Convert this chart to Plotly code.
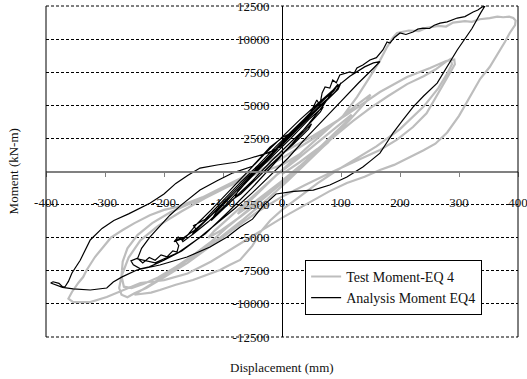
import plotly.graph_objects as go

# ---------------- data (displacement mm, moment kN-m) ----------------
x_tick_vals = [-400, -300, -200, -100, 0, 100, 200, 300, 400]
x_tick_text = ["-400", "-300", "-200", "-100", "0", "100", "200", "300", "400"]
y_tick_vals = [-12500, -10000, -7500, -5000, -2500, 0, 2500, 5000, 7500, 10000, 12500]
y_tick_text = ["-12500", "-10000", "-7500", "-5000", "-2500", "", "2500", "5000", "7500", "10000", "12500"]

test_curve = [
    (0, -200), (30, 700), (60, 1700), (85, 2600), (78, 2200), (50, 1100), (15, -200), (-25, -1600),
    (-55, -2600), (-75, -3200), (-68, -2800), (-40, -1600), (-10, -300), (25, 900), (60, 2200),
    (95, 3500), (118, 4300), (110, 3800), (80, 2500), (45, 1000), (10, -500), (-30, -2000),
    (-70, -3400), (-105, -4500), (-125, -5000), (-115, -4500), (-90, -3500), (-55, -2100),
    (-20, -700), (15, 700), (50, 2100), (85, 3500), (120, 4800), (150, 5800), (143, 5300),
    (115, 3900), (80, 2300), (45, 800), (10, -700), (-25, -2100), (-65, -3600), (-105, -5000),
    (-140, -6100), (-170, -7000), (-200, -7900), (-225, -8600), (-242, -9100), (-250, -9300),
    (-240, -9250), (-222, -9150), (-207, -8950), (-180, -8550), (-151, -8190), (-125, -7800),
    (-105, -7440), (-88, -7050), (-71, -6680), (-50, -5600), (-37, -4600), (-20, -3700),
    (0, -2900), (30, -1900), (60, -900), (90, 0), (120, 800), (160, 1900), (200, 3200),
    (240, 4900), (265, 6300), (280, 7400), (288, 8100), (286, 8500), (278, 8300), (260, 7700),
    (240, 7200), (212, 6600), (180, 5700), (150, 4800), (120, 3800), (90, 2700), (60, 1600),
    (30, 400), (0, -700), (-30, -1900), (-60, -3000), (-90, -4100), (-120, -5300), (-150, -6300),
    (-180, -7200), (-210, -8000), (-235, -8500), (-255, -8800), (-268, -8700), (-272, -7900),
    (-270, -6800), (-262, -5800), (-245, -4800), (-220, -3900), (-190, -3100), (-150, -2300),
    (-110, -1400), (-70, -500), (-30, 600), (0, 1400), (53, 2700), (110, 4300), (166, 6000),
    (212, 7140), (251, 7820), (278, 8350), (292, 8450), (293, 8100), (288, 7700), (275, 6700),
    (262, 5600), (245, 4400), (222, 3360), (195, 2400), (166, 1620), (120, 700), (81, -110),
    (40, -1000), (0, -1900), (-40, -3000), (-80, -4300), (-120, -5600), (-160, -6900),
    (-200, -8000), (-230, -8800), (-250, -9200), (-262, -9500), (-272, -9300), (-276, -8800),
    (-272, -7900), (-260, -6500), (-240, -5200), (-210, -4100), (-170, -3000), (-130, -2000),
    (-93, -1170), (-50, -200), (0, 1000), (50, 2400), (100, 4000), (127, 5620), (149, 7140),
    (165, 8300), (178, 9400), (188, 10100), (195, 10460), (215, 10650), (232, 10600),
    (245, 10850), (265, 11000), (278, 10950), (290, 11250), (310, 11350), (322, 11300),
    (335, 11500), (352, 11590), (365, 11700), (375, 11650), (385, 11700), (392, 11590),
    (396, 11400), (395, 11060), (386, 10460), (378, 9800), (370, 9180), (360, 8500),
    (352, 7890), (336, 7000), (318, 5600), (300, 4200), (280, 2950), (260, 2100), (240, 1600),
    (217, 1100), (190, 500), (166, 110), (140, -400), (110, -870), (80, -1500), (40, -2500),
    (0, -3500), (-40, -4600), (-80, -5700), (-120, -6800), (-160, -7700), (-200, -8200),
    (-240, -8420), (-269, -8950), (-297, -9480), (-325, -9860), (-354, -9860), (-362, -9600),
    (-356, -9100), (-345, -8400), (-337, -7970), (-331, -7440), (-317, -6460), (-303, -5700),
    (-290, -5000), (-270, -4420), (-250, -3900), (-224, -3300), (-200, -2900), (-178, -2680),
    (-134, -1930), (-93, -1170), (-50, -300), (0, 500), (30, 1300),
]

analysis_curve = [
    (-30, 0), (0, 1300), (30, 2700), (50, 3600), (45, 3200), (20, 2100), (-10, 900), (-40, -400),
    (-70, -1700), (-80, -2000), (-75, -1500), (-45, -100), (-15, 1200), (15, 2500), (45, 3900),
    (70, 4900), (65, 4500), (40, 3300), (10, 2000), (-20, 700), (-50, -700), (-80, -2000),
    (-110, -3300), (-120, -3700), (-112, -3100), (-85, -1800), (-55, -400), (-25, 1000),
    (5, 2300), (35, 3700), (65, 5000), (90, 6000), (100, 6700), (95, 6200), (70, 5100),
    (40, 3800), (10, 2500), (-20, 1100), (-50, -200), (-80, -1600), (-110, -2900), (-140, -4200),
    (-152, -4700), (-145, -4400), (-150, -4100), (-130, -3600), (-100, -2200), (-70, -800),
    (-40, 500), (-10, 1900), (20, 3200), (50, 4500), (80, 5800), (95, 6600), (88, 6100),
    (60, 5000), (30, 3600), (0, 2200), (-30, 800), (-60, -500), (-90, -1900), (-120, -3300),
    (-150, -4500), (-170, -5100), (-183, -5300), (-176, -4950), (-168, -5150), (-160, -4800),
    (-145, -4000), (-120, -2900), (-90, -1500), (-60, -100), (-30, 1300), (0, 2600), (30, 3900),
    (60, 5100), (90, 6300), (115, 7200), (140, 7900), (155, 8200), (166, 8300), (155, 7800),
    (130, 6700), (100, 5300), (70, 3900), (40, 2500), (10, 1000), (-20, -300), (-50, -1600),
    (-80, -2800), (-110, -3900), (-140, -5000), (-170, -6000), (-200, -6700), (-225, -7200),
    (-240, -7350), (-252, -7050), (-256, -6750), (-245, -6550), (-236, -6900), (-225, -6500),
    (-215, -6700), (-205, -6300), (-195, -6450), (-185, -6000), (-178, -6080), (-175, -5600),
    (-180, -5250), (-172, -5000), (-168, -5300), (-150, -4700), (-125, -3800), (-95, -2500),
    (-70, -1300), (-45, 0), (-20, 1200), (5, 2400), (35, 3800), (65, 5200), (85, 6000),
    (70, 5000), (45, 3600), (15, 2000), (-15, 500), (-50, -1200), (-90, -3000), (-130, -4700),
    (-175, -6100), (-215, -6900), (-245, -6600), (-238, -5800), (-224, -4950), (-205, -4000),
    (-190, -3300), (-170, -2500), (-139, -1400), (-110, -700), (-83, -100), (-50, 400),
    (-20, 1850), (2, 2600), (25, 3130), (42, 3890), (53, 4870), (59, 5400), (64, 5000),
    (68, 5930), (73, 6380), (81, 6300), (86, 6910), (92, 6700), (98, 7290), (115, 7520),
    (122, 7400), (127, 7820), (137, 8050), (149, 8420), (160, 8600), (171, 9180), (178, 9780),
    (183, 9700), (190, 10100), (200, 10460), (210, 10350), (222, 10540), (230, 10750),
    (239, 10830), (250, 10800), (258, 11050), (268, 11210), (280, 11300), (297, 11590),
    (310, 11700), (324, 12050), (332, 12200), (339, 12420), (344, 12500), (337, 12000),
    (322, 10800), (297, 9180), (280, 7900), (263, 6680), (240, 5700), (222, 4870), (205, 3900),
    (188, 2900), (175, 2000), (166, 1390), (150, 800), (137, 340), (110, -420), (81, -1020),
    (53, -1400), (20, -1500), (-10, -1700), (-32, -2600), (-50, -3600), (-71, -4190),
    (-93, -4950), (-122, -5700), (-161, -6460), (-207, -7060), (-246, -7440), (-271, -7960),
    (-286, -8350), (-297, -8800), (-325, -8950), (-354, -8870), (-372, -8750), (-386, -8550),
    (-392, -8420), (-388, -8330), (-378, -8450), (-372, -8700), (-368, -8720), (-362, -8300),
    (-356, -7670), (-342, -6700), (-325, -5170), (-305, -4300), (-285, -3700), (-260, -3200),
    (-224, -2400), (-200, -1700), (-180, -900), (-160, -300), (-139, 260), (-110, 490),
    (-76, 720), (-54, 1000), (-25, 1390), (-3, 1850), (14, 2600), (25, 3130),
]

test_x = [p[0] for p in test_curve]
test_y = [p[1] for p in test_curve]
ana_x = [p[0] for p in analysis_curve]
ana_y = [p[1] for p in analysis_curve]

FONT = "Liberation Serif"
TXT = "#111111"
DASH = "3px,2px"

fig = go.Figure()
fig.add_trace(go.Scatter(x=test_x, y=test_y, mode="lines", name="Test Moment-EQ 4",
                         line=dict(color="#BDBDBD", width=2.2)))
fig.add_trace(go.Scatter(x=ana_x, y=ana_y, mode="lines", name="Analysis Moment EQ4",
                         line=dict(color="#000000", width=1.2)))

fig.update_layout(
    width=527, height=379,
    margin=dict(l=46, r=9, t=6, b=42, autoexpand=False),
    paper_bgcolor="white", plot_bgcolor="white",
    font=dict(family=FONT, size=12, color=TXT),
    showlegend=True,
    legend=dict(x=0.549, y=0.233, xanchor="left", yanchor="top",
                bgcolor="white", bordercolor="black", borderwidth=1,
                font=dict(family=FONT, size=14, color=TXT),
                tracegroupgap=0, itemwidth=30),
    xaxis=dict(range=[-400, 400], tickvals=x_tick_vals, ticktext=x_tick_text,
               anchor="free", position=0.5, showgrid=False, zeroline=False,
               showline=True, linecolor="#808080", linewidth=1.5,
               ticks="outside", ticklen=5, tickcolor="#808080", tickwidth=1,
               ticklabeloverflow="allow", automargin=False,
               ticklabelstandoff=14, tickfont=dict(family=FONT, size=13, color=TXT)),
    yaxis=dict(range=[-12500, 12500], tickvals=y_tick_vals, ticktext=y_tick_text,
               anchor="free", position=0.5, showgrid=True, gridcolor="black",
               griddash=DASH, gridwidth=1, zeroline=False,
               showline=True, linecolor="black", linewidth=1, ticks="",
               ticklabeloverflow="allow", automargin=False,
               ticklabelstandoff=10, tickfont=dict(family=FONT, size=13, color=TXT)),
    annotations=[
        dict(text="Moment (kN-m)", xref="paper", yref="paper", x=-0.068, y=0.5,
             textangle=-90, showarrow=False, font=dict(family=FONT, size=13, color=TXT),
             xanchor="center", yanchor="middle"),
        dict(text="Displacement (mm)", xref="paper", yref="paper", x=0.5, y=-0.093,
             showarrow=False, font=dict(family=FONT, size=13, color=TXT),
             xanchor="center", yanchor="middle"),
    ],
    shapes=[
        dict(type="line", xref="paper", yref="paper", x0=0, x1=0, y0=0, y1=1,
             line=dict(color="black", width=1)),
        dict(type="line", xref="paper", yref="paper", x0=1, x1=1, y0=0, y1=1,
             line=dict(color="black", width=1)),
        dict(type="line", xref="paper", yref="paper", x0=0, x1=1, y0=1, y1=1,
             line=dict(color="black", width=1, dash=DASH)),
        dict(type="line", xref="paper", yref="paper", x0=0, x1=1, y0=0, y1=0,
             line=dict(color="black", width=1, dash=DASH)),
    ],
)

fig.write_html("out.html")
